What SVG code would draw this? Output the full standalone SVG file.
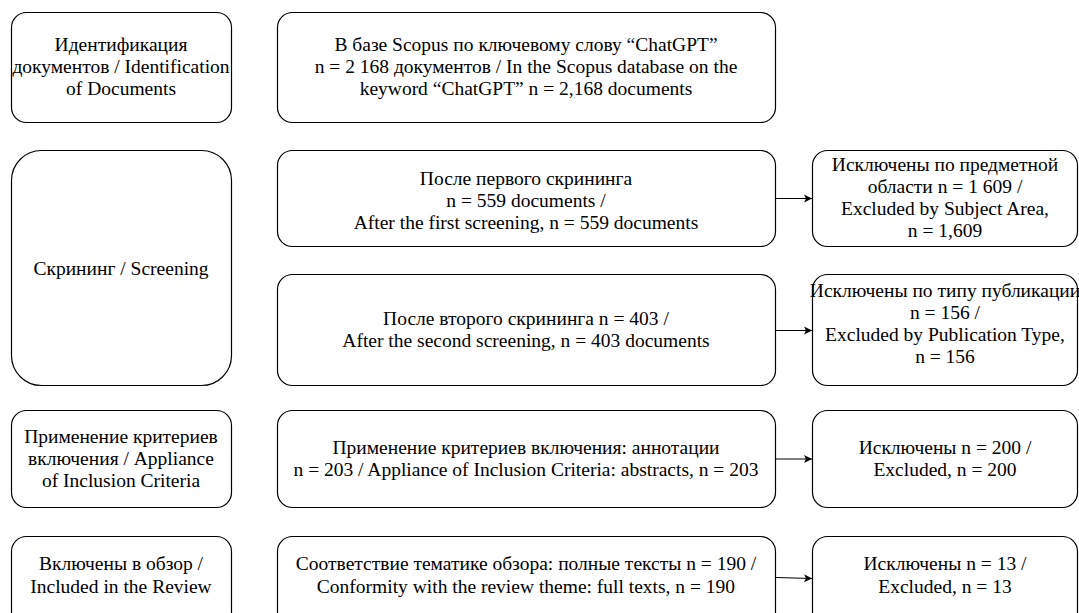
<svg xmlns="http://www.w3.org/2000/svg" width="1079" height="613" viewBox="0 0 1079 613">
<defs>
<marker id="ah" markerWidth="10" markerHeight="10" refX="9" refY="5" orient="auto" markerUnits="userSpaceOnUse">
<path d="M1,1 L9,5 L1,9 L3,5 Z" fill="#000"/>
</marker>
</defs>
<style>
rect{fill:#fff;stroke:#000;stroke-width:1.2}
text{font-size:19.5px;fill:#000;text-anchor:middle}
.c line{stroke:#000;stroke-width:1.2;marker-end:url(#ah)}
</style>
<rect x="0" y="0" width="1079" height="613" style="stroke:none"/>
<g font-family="Liberation Serif, Times New Roman, serif">
<g id="n-ident"><rect x="11.5" y="12.5" width="220" height="110" rx="15"/>
<text x="121" y="51">Идентификация</text><text x="121" y="73">документов / Identification</text><text x="121" y="95">of Documents</text></g>
<g id="n-scopus"><rect x="277.5" y="12.5" width="498" height="110" rx="15"/>
<text x="526" y="51">В базе Scopus по ключевому слову “ChatGPT”</text><text x="526" y="73">n = 2 168 документов / In the Scopus database on the</text><text x="526" y="95">keyword “ChatGPT” n = 2,168 documents</text></g>
<g id="n-screen"><rect x="11.5" y="150.5" width="220" height="235" rx="30"/>
<text x="121" y="275">Скрининг / Screening</text></g>
<g id="n-first"><rect x="277.5" y="150.5" width="498" height="96" rx="15"/>
<text x="526" y="185">После первого скрининга</text><text x="526" y="207">n = 559 documents /</text><text x="526" y="229">After the first screening, n = 559 documents</text></g>
<g id="n-ex1"><rect x="812.5" y="150.5" width="265" height="96" rx="15"/>
<text x="945" y="171">Исключены по предметной</text><text x="945" y="193">области n = 1 609 /</text><text x="945" y="215">Excluded by Subject Area,</text><text x="945" y="237">n = 1,609</text></g>
<g id="n-second"><rect x="277.5" y="274.5" width="498" height="111" rx="15"/>
<text x="526" y="325">После второго скрининга n = 403 /</text><text x="526" y="347">After the second screening, n = 403 documents</text></g>
<g id="n-ex2"><rect x="812.5" y="274.5" width="265" height="111" rx="15"/>
<text x="945" y="297">Исключены по типу публикации</text><text x="945" y="319">n = 156 /</text><text x="945" y="341">Excluded by Publication Type,</text><text x="945" y="363">n = 156</text></g>
<g id="n-apply"><rect x="11.5" y="410.5" width="220" height="97" rx="15"/>
<text x="121" y="443">Применение критериев</text><text x="121" y="465">включения / Appliance</text><text x="121" y="487">of Inclusion Criteria</text></g>
<g id="n-abstracts"><rect x="277.5" y="410.5" width="498" height="97" rx="15"/>
<text x="526" y="454">Применение критериев включения: аннотации</text><text x="526" y="476">n = 203 / Appliance of Inclusion Criteria: abstracts, n = 203</text></g>
<g id="n-ex3"><rect x="812.5" y="410.5" width="265" height="97" rx="15"/>
<text x="945" y="454">Исключены n = 200 /</text><text x="945" y="476">Excluded, n = 200</text></g>
<g id="n-included"><rect x="11.5" y="536.5" width="220" height="90" rx="15"/>
<text x="121" y="570">Включены в обзор /</text><text x="121" y="593">Included in the Review</text></g>
<g id="n-full"><rect x="277.5" y="536.5" width="498" height="90" rx="15"/>
<text x="526" y="570">Соответствие тематике обзора: полные тексты n = 190 /</text><text x="526" y="593">Conformity with the review theme: full texts, n = 190</text></g>
<g id="n-ex4"><rect x="812.5" y="536.5" width="265" height="90" rx="15"/>
<text x="945" y="570">Исключены n = 13 /</text><text x="945" y="593">Excluded, n = 13</text></g>
</g>
<g class="c" id="connectors">
<line x1="776" y1="198.5" x2="812" y2="198.5"/>
<line x1="776" y1="330.5" x2="812" y2="330.5"/>
<line x1="776" y1="459" x2="812" y2="459"/>
<line x1="776" y1="577.5" x2="812" y2="578.5"/>
</g>
</svg>
